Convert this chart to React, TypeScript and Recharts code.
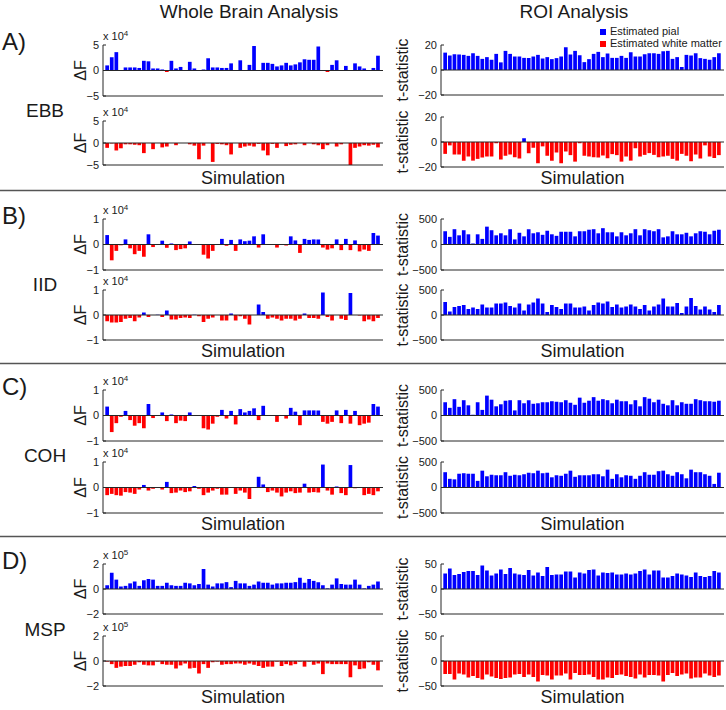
import React from 'react';
import { BarChart, Bar, XAxis, YAxis, Cell, ReferenceLine } from 'recharts';

// ---------- data (60 simulations per panel) ----------
const xTicks = [10, 20, 30, 40, 50, 60];

const ebbWholePial = [1.0, 2.6, 3.6, 0.1, 0.6, 0.6, 0.6, 0.5, 1.9, 1.8, 0.4, 0.4, 0.2, -0.3, 1.9, 0.4, 0.7, 0, 1.7, 0.4, 0, 0.2, 2.4, 0.6, 0.6, 0.5, 0.5, 1.4, -0.1, 2.0, 0, 1.1, 4.8, -0.1, 1.5, 1.5, 1.3, 0.8, 1.0, 1.5, 1.0, 1.2, 1.6, 2.2, 2.1, 2.1, 4.7, 0, -0.3, 1.1, 2.0, 0, 0.9, 0, 1.4, 0.8, 0.4, -0.1, 0.5, 2.9];
const ebbWholeWhite = [-1.1, -0.1, -1.7, -1.2, -0.3, -0.3, -0.4, -0.5, -2.3, 0, -1.4, 0, -1.0, -0.8, 0, -0.5, 0, 0, -0.3, -0.6, -3.7, -0.6, 0, -4.3, -0.2, -0.3, -0.5, -2.6, 0, -1.1, -0.8, -0.6, -0.8, -0.2, -1.7, -2.8, -0.2, -1.1, 0, -0.7, -0.4, -0.3, 0, -0.5, 0, -0.3, -0.5, -1.4, -0.5, 0, -0.8, -0.3, 0, -5.1, -1.1, -0.8, -0.5, -0.6, -0.4, -1.0];
const ebbRoiPial = [13.9, 11.6, 12.6, 12.4, 12.1, 11.3, 13.4, 11.3, 8.9, 10.3, 8.2, 12.9, 6.1, 15.3, 12.9, 10.8, 10.8, 9.7, 9.7, 10.8, 12.1, 9.2, 10.3, 8.7, 9.5, 10.8, 18.2, 12.4, 15.3, 11.8, 6.3, 8.7, 12.9, 14.5, 10.3, 13.2, 9.7, 9.7, 11.3, 9.7, 14.2, 10.8, 10.8, 12.6, 13.4, 13.4, 12.9, 15.0, 15.3, 8.9, 10.3, 2.4, 12.1, 11.6, 13.4, 9.5, 8.9, 8.2, 10.3, 13.4];
const ebbRoiWhite = [-9.5, -2.7, -10, -10, -15, -11.6, -14.9, -13.5, -12.4, -11.6, -11.6, -1, -14, -11, -10, -12.2, -13.2, 3, -9, -4.6, -17, -3.5, -11, -15, -8.4, -17, -7.6, -10.5, -15.7, -1, -11, -11.6, -12.2, -12.4, -10.8, -13, -9.7, -10.5, -15.7, -11.6, -14.9, -5, -11.6, -10.3, -8.9, -10.3, -12.2, -11.6, -11, -13.5, -14.9, -9.5, -11, -15.4, -10, -13.2, -2.7, -11.6, -12.8, -10.5];

const iidWholePial = [0.37, -0.62, -0.25, -0.03, 0.2, -0.15, -0.38, -0.25, -0.48, 0.4, -0.1, 0, 0.15, -0.13, 0.04, -0.22, -0.18, -0.15, 0.12, 0.01, 0, -0.4, -0.55, -0.25, 0, 0.22, -0.05, 0.18, -0.25, 0.2, 0.13, 0.15, 0.32, -0.12, 0.4, 0.01, 0.01, -0.12, 0, -0.04, 0.32, 0.16, -0.33, 0.22, 0.18, 0.2, 0.2, -0.12, -0.2, -0.15, 0.2, -0.22, 0.22, -0.22, 0.16, -0.27, -0.2, -0.25, 0.45, 0.35];
const iidWholeWhite = [-0.25, -0.3, -0.3, -0.28, -0.15, -0.12, -0.25, -0.1, 0.1, -0.08, 0, 0.01, -0.08, 0.18, -0.18, -0.18, -0.12, -0.1, -0.12, 0.01, -0.05, -0.28, -0.15, -0.1, 0, -0.22, -0.22, 0.06, -0.22, -0.05, -0.15, -0.38, 0, 0.42, 0.12, -0.15, -0.1, -0.15, -0.22, -0.15, -0.15, -0.22, -0.15, 0.06, -0.12, -0.12, -0.15, 0.9, -0.08, -0.22, 0, -0.15, -0.2, 0.88, 0, -0.02, -0.25, -0.18, -0.25, -0.12];
const iidRoiPial = [260, 150, 300, 180, 280, 200, 20, 200, 110, 350, 280, 180, 220, 180, 300, 100, 230, 160, 300, 220, 240, 190, 270, 200, 170, 250, 250, 250, 160, 260, 260, 290, 300, 220, 320, 240, 240, 160, 240, 180, 220, 300, 180, 300, 280, 260, 300, 140, 160, 260, 200, 200, 230, 160, 220, 260, 250, 200, 270, 290];
const iidRoiWhite = [260, 70, 160, 180, 200, 120, 150, 120, 210, 150, 150, 230, 230, 250, 180, 150, 230, 90, 210, 250, 330, 230, 60, 200, 160, 120, 230, 230, 150, 150, 170, 90, 200, 250, 230, 270, 160, 210, 150, 170, 210, 170, 120, 200, 90, 170, 210, 330, 170, 170, 240, 40, 170, 340, 180, 110, 170, 110, 60, 200];

const cohWholePial = [0.35, -0.65, -0.3, -0.05, 0.18, -0.18, -0.4, -0.3, -0.5, 0.45, -0.1, 0, 0.12, -0.22, 0.04, -0.3, -0.2, -0.22, 0.12, 0, 0.01, -0.5, -0.55, -0.32, -0.05, 0.22, -0.12, 0.18, -0.35, 0.25, 0.12, 0.18, 0.28, -0.18, 0.38, 0.01, 0, -0.25, 0, -0.12, 0.3, 0.15, -0.38, 0.2, 0.2, 0.2, 0.2, -0.25, -0.32, -0.25, 0.2, -0.3, 0.22, -0.32, 0.18, -0.38, -0.32, -0.28, 0.45, 0.35];
const cohWholeWhite = [-0.3, -0.25, -0.3, -0.32, -0.18, -0.2, -0.25, -0.08, 0.1, -0.12, -0.05, 0, -0.08, 0.22, -0.22, -0.2, -0.12, -0.18, -0.15, 0.06, -0.05, -0.3, -0.2, -0.12, -0.05, -0.28, -0.28, 0, -0.25, -0.12, -0.2, -0.45, 0, 0.42, 0.12, -0.18, -0.12, -0.2, -0.35, -0.2, -0.15, -0.22, -0.2, 0.15, -0.2, -0.18, -0.2, 0.9, -0.12, -0.28, 0.04, -0.22, -0.3, 0.88, -0.03, 0, -0.3, -0.25, -0.3, -0.15];
const cohRoiPial = [260, 150, 320, 170, 300, 200, 15, 260, 110, 390, 310, 180, 220, 290, 300, 100, 300, 240, 300, 230, 240, 260, 260, 280, 270, 260, 300, 250, 210, 350, 250, 290, 360, 290, 320, 300, 240, 310, 280, 280, 220, 300, 180, 360, 330, 260, 310, 230, 200, 300, 200, 260, 230, 230, 320, 300, 280, 280, 270, 290];
const cohRoiWhite = [300, 170, 160, 270, 280, 270, 270, 130, 330, 220, 250, 240, 240, 300, 230, 250, 240, 260, 290, 280, 330, 280, 290, 200, 240, 230, 270, 330, 210, 240, 240, 240, 260, 260, 220, 350, 170, 260, 200, 240, 230, 170, 230, 300, 250, 250, 320, 330, 260, 230, 300, 260, 180, 350, 300, 300, 260, 230, 70, 290];

const mspWholePial = [0.3, 1.3, 0.75, 0.2, 0.25, 0.45, 0.6, 0.25, 0.7, 0.8, 0.75, 0.25, 0.25, 0.5, 0.3, 0.25, 0.25, 0.5, 0.45, 0.3, 0.4, 1.6, 0.35, 0.2, 0.45, 0.45, 0.55, 0.15, 0.65, 0.45, 0.45, 0.25, 0.35, 0.6, 0.5, 0.5, 0.35, 0.45, 0.45, 0.5, 0.5, 0.55, 0.9, 0.5, 0.8, 0.65, 0.55, 0.3, 0.05, 0.35, 0.85, 0.4, 0.35, 0.35, 0.75, 0.35, 0.05, 0.25, 0.35, 0.6];
const mspWholeWhite = [-0.05, -0.25, -0.55, -0.45, -0.4, -0.4, -0.3, -0.1, -0.3, -0.35, -0.35, -0.05, -0.25, -0.3, -0.3, -0.6, -0.35, -0.2, -0.6, -0.55, -1.0, -0.25, -0.55, -0.1, -0.05, -0.3, -0.25, -0.25, -0.2, -0.2, -0.3, -0.2, -0.3, -0.4, -0.55, -0.45, -0.45, -0.05, -0.4, -0.25, -0.35, -0.25, -0.05, -0.45, -0.05, -0.3, -0.2, -1.05, -0.2, -0.25, -0.25, -0.25, -0.25, -1.3, -0.35, -0.65, -0.6, -0.1, -0.3, -0.75];
const mspRoiPial = [31, 41, 28, 30, 34, 36, 36, 28, 47, 37, 27, 31, 39, 30, 42, 31, 29, 28, 38, 27, 33, 26, 44, 28, 29, 29, 35, 35, 23, 33, 31, 38, 39, 27, 33, 32, 33, 29, 29, 31, 29, 31, 36, 39, 29, 37, 37, 23, 23, 26, 31, 29, 27, 24, 33, 26, 24, 26, 36, 33];
const mspRoiWhite = [-26, -26, -37, -25, -27, -33, -30, -34, -37, -27, -31, -34, -36, -34, -33, -27, -26, -32, -27, -32, -41, -28, -29, -37, -29, -29, -25, -37, -24, -28, -28, -27, -32, -37, -37, -33, -34, -28, -27, -30, -32, -35, -27, -33, -28, -28, -29, -41, -28, -24, -30, -27, -25, -35, -33, -33, -25, -29, -32, -29];

const sectionLetters = ['A)', 'B)', 'C)', 'D)'];
const methodNames = ['EBB', 'IID', 'COH', 'MSP'];
const wholeExponents = ['4', '4', '4', '5'];
const wholeLimits = [5, 1, 1, 2];
const roiLimits = [20, 500, 500, 50];
const legendLabels = ['Estimated pial', 'Estimated white matter'];

// ---------- styling ----------
const BLUE = '#0000ff';
const RED = '#ff0000';
const AXIS = '#262626';
const TXT = '#1a1a1a';
const FONT = '"Liberation Sans", Arial, Helvetica, sans-serif';

const LEFT_X = 103;
const LEFT_W = 280;
const RIGHT_X = 441;
const RIGHT_W = 283;

// plot rectangles per section: [top, height]
const sectionRects = [
  { lt: [45, 51], lb: [121, 44], rt: [45, 50], rb: [117, 50] },
  { lt: [219, 51], lb: [290, 50], rt: [219, 51], rb: [290, 50] },
  { lt: [390, 51], lb: [462, 51], rt: [390, 51], rb: [462, 51] },
  { lt: [564, 50], lb: [636, 50], rt: [564, 50], rb: [636, 50] },
];

const panelData = [
  [ebbWholePial, ebbWholeWhite, ebbRoiPial, ebbRoiWhite],
  [iidWholePial, iidWholeWhite, iidRoiPial, iidRoiWhite],
  [cohWholePial, cohWholeWhite, cohRoiPial, cohRoiWhite],
  [mspWholePial, mspWholeWhite, mspRoiPial, mspRoiWhite],
];

const fmt = (v: number) => (v < 0 ? '\u2212' + Math.abs(v) : String(v));

type PanelProps = {
  values: number[];
  left: number;
  top: number;
  width: number;
  height: number;
  limit: number;
};

function Panel({ values, left, top, width, height, limit }: PanelProps) {
  const YW = 40;
  const MT = 9;
  const MR = 4;
  const XH = 4;
  const MB = 8;
  const rows = values.map((v, i) => ({ sim: i + 1, value: v }));
  return (
    <div style={{ position: 'absolute', left: left - YW, top: top - MT }}>
      <BarChart
        width={YW + width + MR}
        height={MT + height + XH + MB}
        data={rows}
        margin={{ top: MT, right: MR, bottom: MB, left: 0 }}
      >
        <XAxis
          dataKey="sim"
          type="number"
          domain={[0, 61]}
          ticks={xTicks}
          allowDataOverflow
          tick={false}
          tickSize={-3}
          height={XH}
          axisLine={{ stroke: AXIS }}
          tickLine={{ stroke: AXIS }}
        />
        <YAxis
          type="number"
          domain={[-limit, limit]}
          ticks={[-limit, 0, limit]}
          allowDataOverflow
          interval={0}
          width={YW}
          tickSize={-3}
          tickMargin={7}
          axisLine={{ stroke: AXIS }}
          tickLine={{ stroke: AXIS }}
          tick={{ fontSize: 11, fill: TXT, fontFamily: FONT }}
          tickFormatter={fmt}
        />
        <Bar dataKey="value" barSize={3.7} isAnimationActive={false}>
          {rows.map((r, i) => (
            <Cell key={i} fill={r.value > 0 ? BLUE : RED} />
          ))}
        </Bar>
        <ReferenceLine y={0} stroke={AXIS} strokeWidth={1} />
      </BarChart>
    </div>
  );
}

export default function App() {
  const panels: React.ReactNode[] = [];
  const labels: React.ReactNode[] = [];
  sectionRects.forEach((r, s) => {
    const d = panelData[s];
    panels.push(
      <Panel key={`lt${s}`} values={d[0]} left={LEFT_X} top={r.lt[0]} width={LEFT_W} height={r.lt[1]} limit={wholeLimits[s]} />,
      <Panel key={`lb${s}`} values={d[1]} left={LEFT_X} top={r.lb[0]} width={LEFT_W} height={r.lb[1]} limit={wholeLimits[s]} />,
      <Panel key={`rt${s}`} values={d[2]} left={RIGHT_X} top={r.rt[0]} width={RIGHT_W} height={r.rt[1]} limit={roiLimits[s]} />,
      <Panel key={`rb${s}`} values={d[3]} left={RIGHT_X} top={r.rb[0]} width={RIGHT_W} height={r.rb[1]} limit={roiLimits[s]} />
    );
    const top = r.lt[0];
    const bottom = r.rb[0] + r.rb[1];
    labels.push(
      <g key={`lab${s}`}>
        <text x={2} y={top + 5} fontSize={24}>{sectionLetters[s]}</text>
        <text x={45} y={top + 72} fontSize={19} textAnchor="middle">{methodNames[s]}</text>
        {[r.lt, r.lb].map((p, k) => (
          <g key={k}>
            <text transform={`translate(80, ${p[0] + p[1] / 2}) rotate(-90)`} textAnchor="middle" dy="0.35em" fontSize={16}>ΔF</text>
            <text x={LEFT_X} y={p[0] - 5} fontSize={11}>
              x 10<tspan fontSize={8} dy={-4}>{wholeExponents[s]}</tspan>
            </text>
          </g>
        ))}
        {[r.rt, r.rb].map((p, k) => (
          <text key={k} transform={`translate(402, ${p[0] + p[1] / 2}) rotate(-90)`} textAnchor="middle" dy="0.35em" fontSize={16}>t-statistic</text>
        ))}
        <text x={LEFT_X + LEFT_W / 2} y={bottom + 17} fontSize={18} textAnchor="middle">Simulation</text>
        <text x={RIGHT_X + RIGHT_W / 2} y={bottom + 17} fontSize={18} textAnchor="middle">Simulation</text>
        {s < 3 && <line x1={0} x2={726} y1={bottom + 23.5} y2={bottom + 23.5} stroke="#555" strokeWidth={1.5} />}
      </g>
    );
  });

  return (
    <div style={{ position: 'absolute', left: 0, top: 0, width: 726, height: 710, background: '#fff', fontFamily: FONT }}>
      {panels}
      <svg width={726} height={710} style={{ position: 'absolute', left: 0, top: 0, pointerEvents: 'none' }} fontFamily={FONT} fill={TXT}>
        <text x={249} y={18} fontSize={19} textAnchor="middle">Whole Brain Analysis</text>
        <text x={574} y={18} fontSize={19} textAnchor="middle">ROI Analysis</text>
        <rect x={600} y={29} width={6} height={6} fill={BLUE} />
        <text x={610} y={35} fontSize={11}>{legendLabels[0]}</text>
        <rect x={600} y={41} width={6} height={6} fill={RED} />
        <text x={610} y={47} fontSize={11}>{legendLabels[1]}</text>
        {labels}
      </svg>
    </div>
  );
}
